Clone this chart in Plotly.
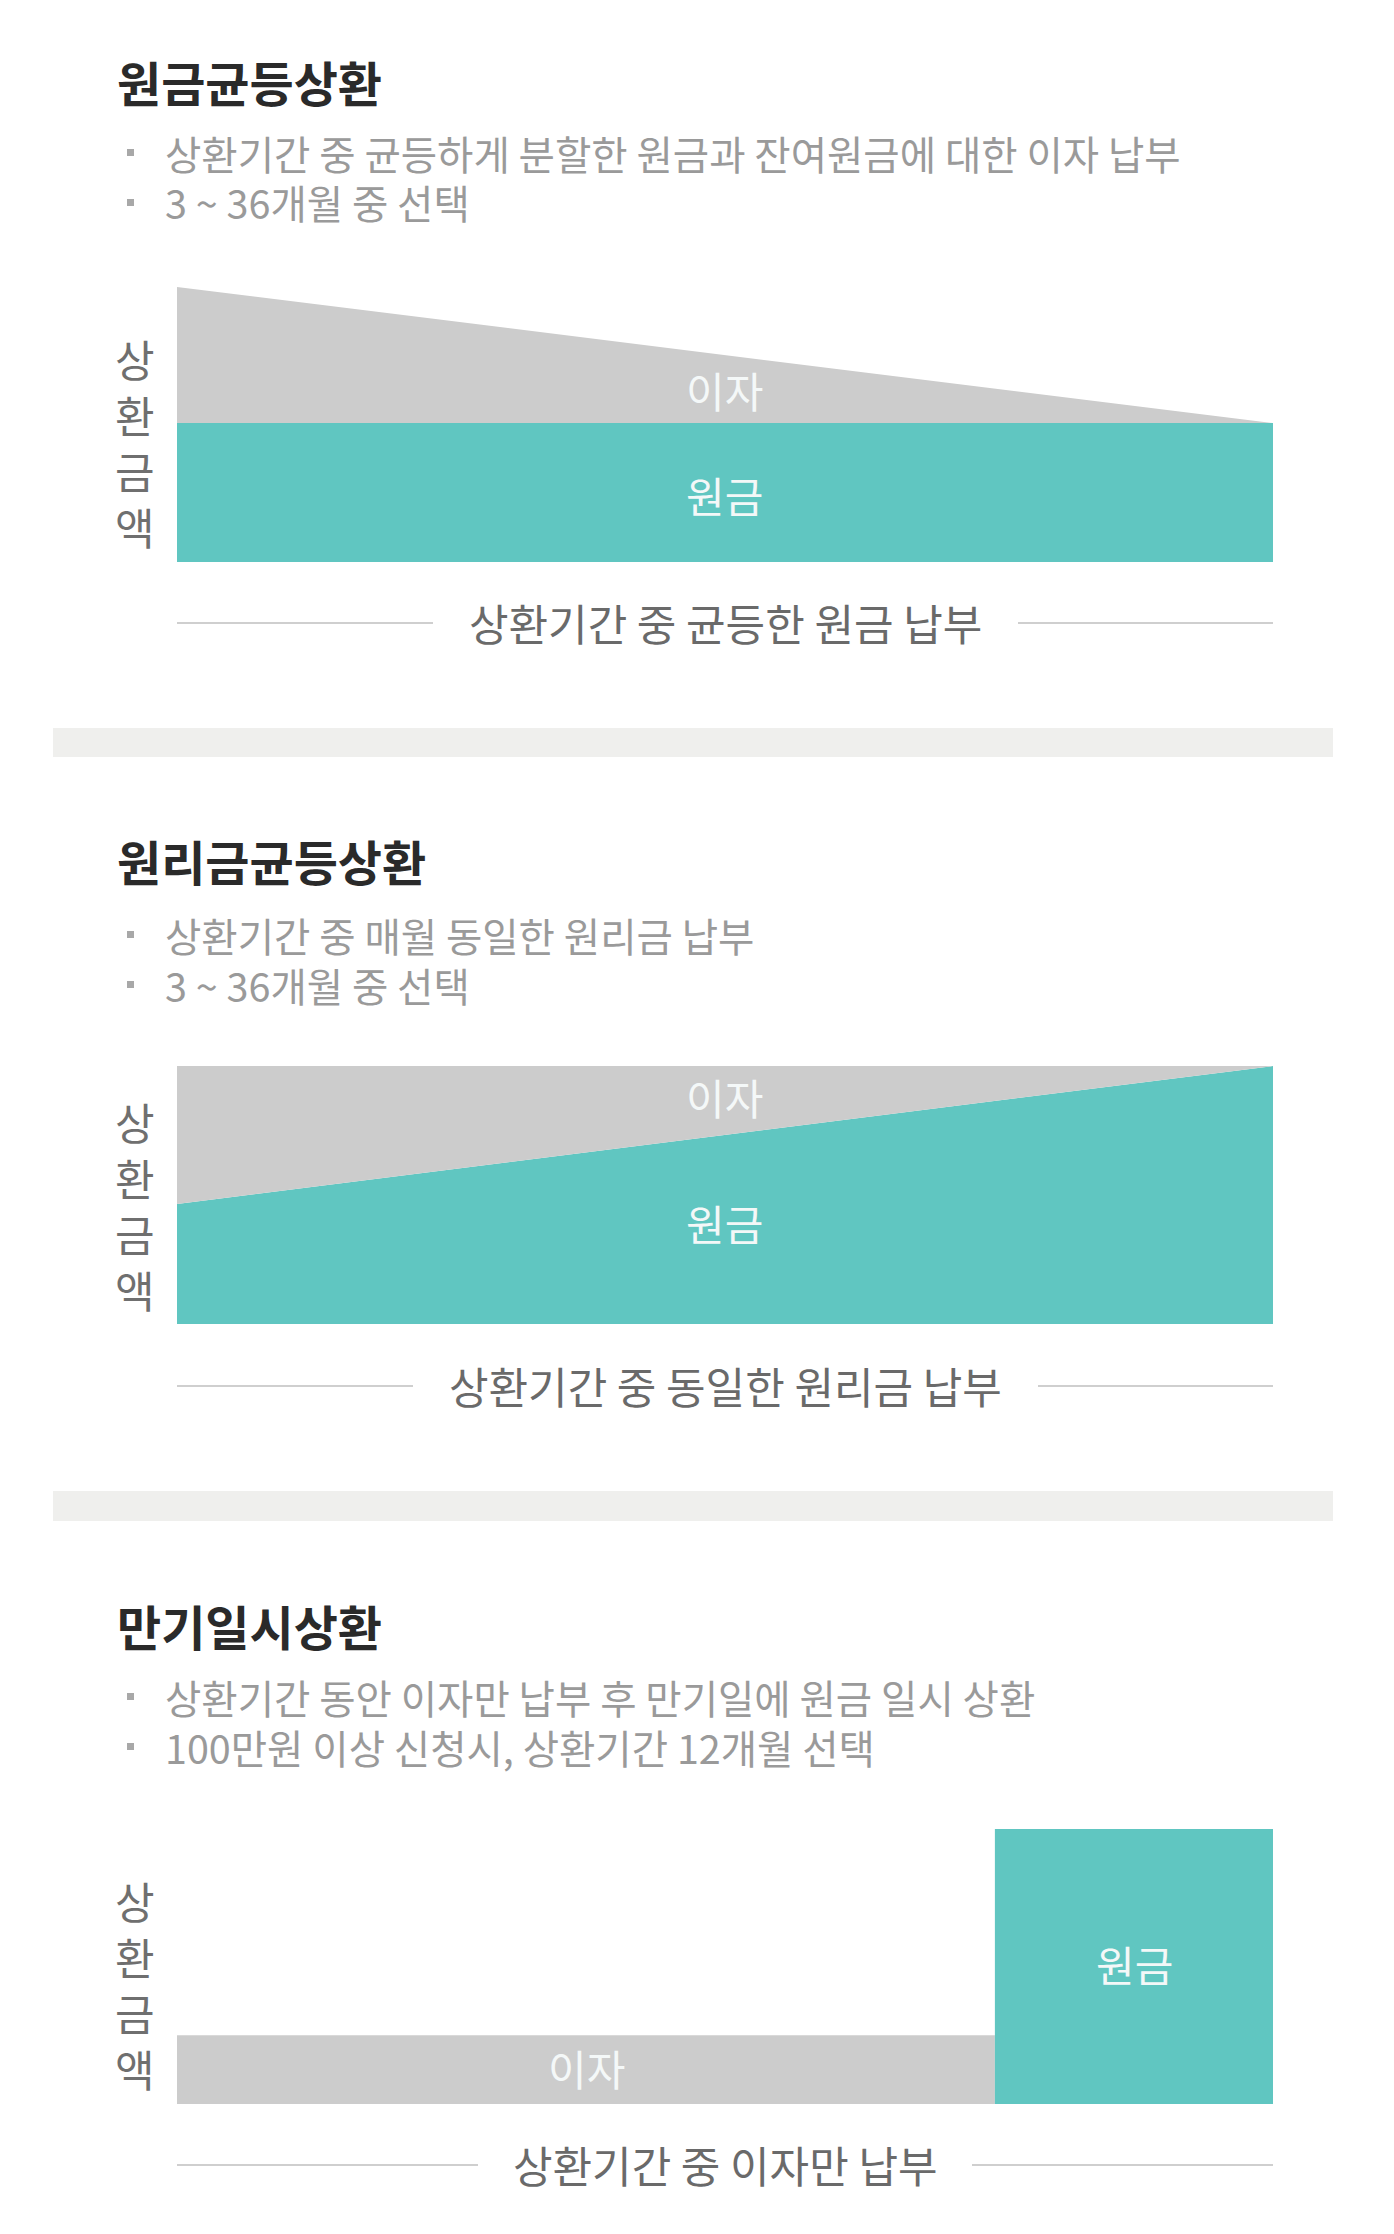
import plotly.graph_objects as go

# page body has an 8px default margin, so the figure is shrunk by 16px and shifted
OFF = 8
W, H = 1394 - 2 * OFF, 2234 - 2 * OFF
FONT = "Noto Sans CJK KR"
TEAL = "#60c6c1"
GREY = "#cccccc"

# ---------------- data ----------------
titles = ["원금균등상환", "원리금균등상환", "만기일시상환"]
bullets = [
    ["상환기간 중 균등하게 분할한 원금과 잔여원금에 대한 이자 납부", "3 ~ 36개월 중 선택"],
    ["상환기간 중 매월 동일한 원리금 납부", "3 ~ 36개월 중 선택"],
    ["상환기간 동안 이자만 납부 후 만기일에 원금 일시 상환", "100만원 이상 신청시, 상환기간 12개월 선택"],
]
captions = ["상환기간 중 균등한 원금 납부", "상환기간 중 동일한 원리금 납부", "상환기간 중 이자만 납부"]
y_label = "상환금액"
series_names = ["원금", "이자"]

# panel 1: equal principal
period1 = [0, 1]
principal1 = [1.0, 1.0]
interest1 = [0.98, 0.0]

# panel 2: equal principal + interest
period2 = [0, 1]
principal2 = [0.465, 1.0]
interest2 = [0.535, 0.0]

# panel 3: bullet repayment
seg3_names = ["이자", "원금"]
seg3_start = [0, 2.985]
seg3_len = [2.985, 1.015]
seg3_height = [1, 4]

# ---------------- layout helpers ----------------
def px(x):
    return (x - OFF) / W


def py(y):
    return 1 - (y - OFF) / H


PLOT_L, PLOT_R = 177, 1273
panels = [
    dict(top=287, bottom=562, title_y=81, b1=152, b2=202, cap_y=622, line_l=433, line_r=1018,
         yl=442, ymax=1.98),
    dict(top=1066, bottom=1324, title_y=860, b1=934, b2=984, cap_y=1385, line_l=413, line_r=1038,
         yl=1205, ymax=1.0),
    dict(top=1829, bottom=2104, title_y=1625, b1=1696, b2=1746, cap_y=2164, line_l=478, line_r=972,
         yl=1984, ymax=4.0),
]

fig = go.Figure()

# panel 1
fig.add_trace(go.Scatter(x=period1, y=principal1, name=series_names[0], stackgroup="a",
                         mode="lines", line=dict(width=0, color=TEAL), fillcolor=TEAL,
                         xaxis="x", yaxis="y", hoverinfo="skip"))
fig.add_trace(go.Scatter(x=period1, y=interest1, name=series_names[1], stackgroup="a",
                         mode="lines", line=dict(width=0, color=GREY), fillcolor=GREY,
                         xaxis="x", yaxis="y", hoverinfo="skip"))
# panel 2
fig.add_trace(go.Scatter(x=period2, y=principal2, name=series_names[0], stackgroup="b",
                         mode="lines", line=dict(width=0, color=TEAL), fillcolor=TEAL,
                         xaxis="x2", yaxis="y2", hoverinfo="skip"))
fig.add_trace(go.Scatter(x=period2, y=interest2, name=series_names[1], stackgroup="b",
                         mode="lines", line=dict(width=0, color=GREY), fillcolor=GREY,
                         xaxis="x2", yaxis="y2", hoverinfo="skip"))
# panel 3
seg_colors = {"이자": GREY, "원금": TEAL}
for nm, s, l, h in zip(seg3_names, seg3_start, seg3_len, seg3_height):
    fig.add_trace(go.Bar(x=[s + l / 2], y=[h], width=[l], name=nm,
                         marker=dict(color=seg_colors[nm], line=dict(width=0)),
                         xaxis="x3", yaxis="y3", hoverinfo="skip"))

axis_common = dict(visible=False, showgrid=False, zeroline=False, fixedrange=True)
layout_axes = {}
x_ranges = [[0, 1], [0, 1], [0, 4]]
for i, p in enumerate(panels):
    sx = "" if i == 0 else str(i + 1)
    layout_axes["xaxis" + sx] = dict(axis_common, domain=[px(PLOT_L), px(PLOT_R)],
                                     range=x_ranges[i], anchor="y" + sx)
    layout_axes["yaxis" + sx] = dict(axis_common, domain=[py(p["bottom"]), py(p["top"])],
                                     range=[0, p["ymax"]], anchor="x" + sx)


def note(x, y, text, size, color, xanchor="center", bold=False):
    return dict(x=px(x), y=py(y), xref="paper", yref="paper",
                text=("<b>" + text + "</b>") if bold else text, showarrow=False,
                xanchor=xanchor, yanchor="middle",
                font=dict(family=FONT, size=size, color=color))


annotations = []
shapes = []
for i, p in enumerate(panels):
    annotations.append(note(115, p["title_y"], titles[i], 48, "#2a2a2a", "left", bold=True))
    for by, bt in zip([p["b1"], p["b2"]], bullets[i]):
        shapes.append(dict(type="rect", xref="paper", yref="paper",
                           x0=px(127), x1=px(134), y0=py(by + 4), y1=py(by - 3),
                           fillcolor="#a8a8a8", line=dict(width=0)))
        annotations.append(note(163, by, bt, 39.5, "#9a9a9a", "left"))
    annotations.append(note(135, p["yl"], "<br>".join(list(y_label)), 43, "#6f6f6f"))
    annotations.append(note((PLOT_L + PLOT_R) / 2, p["cap_y"], captions[i], 43, "#6a6a6a"))
    for x0, x1 in [(PLOT_L, p["line_l"]), (p["line_r"], PLOT_R)]:
        shapes.append(dict(type="line", xref="paper", yref="paper",
                           x0=px(x0), x1=px(x1), y0=py(p["cap_y"] + 1), y1=py(p["cap_y"] + 1),
                           line=dict(color="#cfcfcf", width=2)))

# in-chart labels
LBL = "#f4f8f8"
annotations += [
    note(724, 389, "이자", 42, LBL),
    note(724, 495, "원금", 42, LBL),
    note(724, 1096, "이자", 42, LBL),
    note(724, 1222, "원금", 42, LBL),
    note(1134, 1963, "원금", 42, LBL),
    note(586, 2067, "이자", 42, LBL),
]

# separator bands
for y0, y1 in [(728, 757), (1491, 1521)]:
    shapes.append(dict(type="rect", xref="paper", yref="paper", layer="below",
                       x0=px(53), x1=px(1333), y0=py(y1), y1=py(y0),
                       fillcolor="#efefed", line=dict(width=0)))

fig.update_layout(
    width=W, height=H,
    margin=dict(l=0, r=0, t=0, b=0),
    paper_bgcolor="white", plot_bgcolor="rgba(0,0,0,0)",
    showlegend=False,
    barmode="overlay",
    annotations=annotations,
    shapes=shapes,
    font=dict(family=FONT),
    **layout_axes,
)

fig.write_html("out.html", config={"displayModeBar": False})
